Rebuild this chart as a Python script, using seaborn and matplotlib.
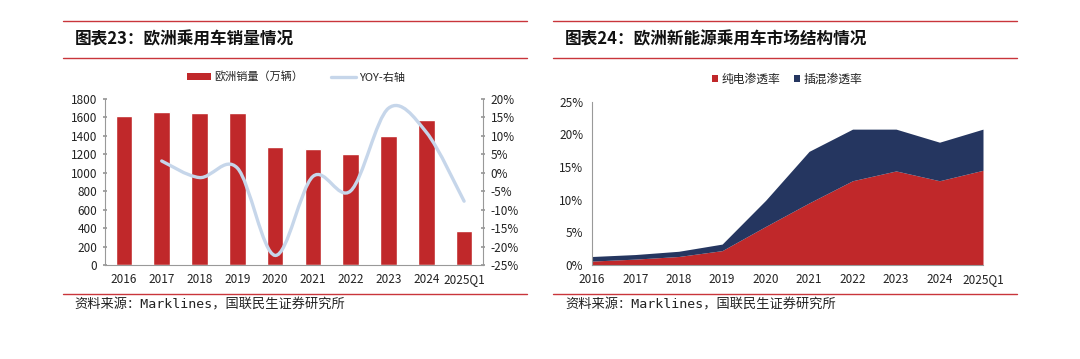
import numpy as np
import matplotlib
matplotlib.use("Agg")
import matplotlib.pyplot as plt
from matplotlib.path import Path
from matplotlib.patches import PathPatch, Patch
from matplotlib.lines import Line2D
import seaborn as sns

# ---------------- data ----------------
categories = ["2016", "2017", "2018", "2019", "2020", "2021", "2022", "2023", "2024", "2025Q1"]
eu_sales = [1612, 1662, 1643, 1648, 1276, 1258, 1204, 1398, 1572, 369]
yoy_cats = ["2017", "2018", "2019", "2020", "2021", "2022", "2023", "2024", "2025Q1"]
yoy = [3.2, -1.3, 1.3, -22.4, -1.0, -4.9, 17.5, 11.0, -7.7]

bev_share = [0.6, 0.9, 1.3, 2.2, 5.9, 9.5, 12.9, 14.4, 12.9, 14.5]
phev_share = [0.7, 0.7, 0.8, 1.0, 4.0, 7.9, 7.9, 6.4, 5.9, 6.3]

sales_ticks = [0, 200, 400, 600, 800, 1000, 1200, 1400, 1600, 1800]
yoy_ticks = [-25, -20, -15, -10, -5, 0, 5, 10, 15, 20]
share_ticks = [0, 5, 10, 15, 20, 25]

title_left = "图表23：欧洲乘用车销量情况"
title_right = "图表24：欧洲新能源乘用车市场结构情况"
source_text = "资料来源：Marklines，国联民生证券研究所"
legend_left = ["欧洲销量（万辆）", "YOY-右轴"]
legend_right = ["纯电渗透率", "插混渗透率"]

RED = "#C0282A"
NAVY = "#253660"
LIGHTBLUE = "#C6D6EA"
RULE = "#C9353B"
SPINE = "#999999"
TXT = "#222222"

sns.set_theme(style="white")
plt.rcParams["font.family"] = ["Noto Sans CJK SC", "DejaVu Sans"]
plt.rcParams["axes.unicode_minus"] = False

W, H = 1080, 359
fig = plt.figure(figsize=(W / 100, H / 100), dpi=100)


def fx(px):
    return px / W


def fy(py):
    return 1 - py / H


# ---------------- decorations (rules, titles, sources) ----------------
for x0, x1 in [(63, 527), (553, 1017)]:
    for yy in (21, 58, 294):
        fig.add_artist(Line2D([fx(x0), fx(x1)], [fy(yy), fy(yy)], color=RULE, lw=1.0))

fig.text(fx(75), fy(39), title_left, fontsize=12, fontweight="bold", va="center", ha="left", color="#111111")
fig.text(fx(565), fy(39), title_right, fontsize=12, fontweight="bold", va="center", ha="left", color="#111111")
for xs in (74, 565):
    fig.text(fx(xs), fy(305), source_text, fontsize=9.5, va="center", ha="left", color="#222222",
             family=["DejaVu Sans Mono", "Noto Sans CJK SC"])

# ---------------- left chart ----------------
ax1 = fig.add_axes([fx(105), fy(265), fx(483 - 105), (265 - 99) / H])
sns.barplot(x=categories, y=eu_sales, color=RED, width=0.44, saturation=1, ax=ax1, zorder=2)
ax1.set_xlim(-0.5, len(categories) - 0.5)
ax1.set_ylim(0, 1800)
ax1.set_yticks(sales_ticks)
ax1.set_yticklabels([str(t) for t in sales_ticks])
ax1.tick_params(axis="both", labelsize=8.5, colors=TXT, length=0, pad=6)
ax1.tick_params(axis="y", length=3, direction="inout", color=SPINE, pad=4)
for s in ("top", "right"):
    ax1.spines[s].set_visible(False)
for s in ("left", "bottom"):
    ax1.spines[s].set_color(SPINE)
    ax1.spines[s].set_linewidth(0.8)
ax1.set_xlabel("")
ax1.set_ylabel("")
ax1.grid(False)

ax2 = ax1.twinx()
ax2.set_ylim(-25, 20)
ax2.set_yticks(yoy_ticks)
ax2.set_yticklabels([f"{t}%" for t in yoy_ticks])
ax2.tick_params(axis="y", labelsize=8.5, colors=TXT, length=3, direction="inout", color=SPINE, pad=4)
for s in ("top", "left", "bottom"):
    ax2.spines[s].set_visible(False)
ax2.spines["right"].set_color(SPINE)
ax2.spines["right"].set_linewidth(0.8)
ax2.grid(False)

# smoothed YOY line (Catmull-Rom style Bezier through the data points)
xs = [categories.index(c) for c in yoy_cats]
pts = np.column_stack([xs, yoy]).astype(float)
verts = [tuple(pts[0])]
codes = [Path.MOVETO]
n = len(pts)
for i in range(n - 1):
    p0 = pts[i - 1] if i > 0 else pts[i]
    p1 = pts[i]
    p2 = pts[i + 1]
    p3 = pts[i + 2] if i + 2 < n else pts[i + 1]
    c1 = p1 + (p2 - p0) / 6.0
    c2 = p2 - (p3 - p1) / 6.0
    verts += [tuple(c1), tuple(c2), tuple(p2)]
    codes += [Path.CURVE4, Path.CURVE4, Path.CURVE4]
ax2.add_patch(PathPatch(Path(verts, codes), facecolor="none", edgecolor=LIGHTBLUE, lw=2.4,
                        capstyle="round", zorder=3))

handles = [Patch(facecolor=RED, edgecolor="none"), Line2D([0], [0], color=LIGHTBLUE, lw=2.4)]
fig.legend(handles, legend_left, loc="center", bbox_to_anchor=(fx(296), fy(77)), ncol=2, frameon=False,
           fontsize=8, handlelength=2.2, handleheight=0.5, columnspacing=2.5, handletextpad=0.3,
           labelcolor=TXT)

# ---------------- right chart ----------------
ax3 = fig.add_axes([fx(591.7), fy(265), fx(983 - 591.7), (265 - 101.7) / H])
xr = np.arange(len(categories))
ax3.stackplot(xr, bev_share, phev_share, colors=[RED, NAVY], linewidth=0, zorder=2)
ax3.set_xlim(0, len(categories) - 1)
ax3.set_ylim(0, 25)
ax3.set_xticks(xr)
ax3.set_xticklabels(categories)
ax3.set_yticks(share_ticks)
ax3.set_yticklabels([f"{t}%" for t in share_ticks])
ax3.tick_params(axis="both", labelsize=8.5, colors=TXT, length=0, pad=6)
for s in ("top", "right"):
    ax3.spines[s].set_visible(False)
for s in ("left", "bottom"):
    ax3.spines[s].set_color(SPINE)
    ax3.spines[s].set_linewidth(0.8)
ax3.grid(False)

handles_r = [Patch(facecolor=RED, edgecolor="none"), Patch(facecolor=NAVY, edgecolor="none")]
fig.legend(handles_r, legend_right, loc="center", bbox_to_anchor=(fx(787), fy(79)), ncol=2, frameon=False,
           fontsize=8.5, handlelength=0.5, handleheight=0.5, columnspacing=1.2, handletextpad=0.3,
           labelcolor=TXT)

fig.savefig("out.png", dpi=100)
